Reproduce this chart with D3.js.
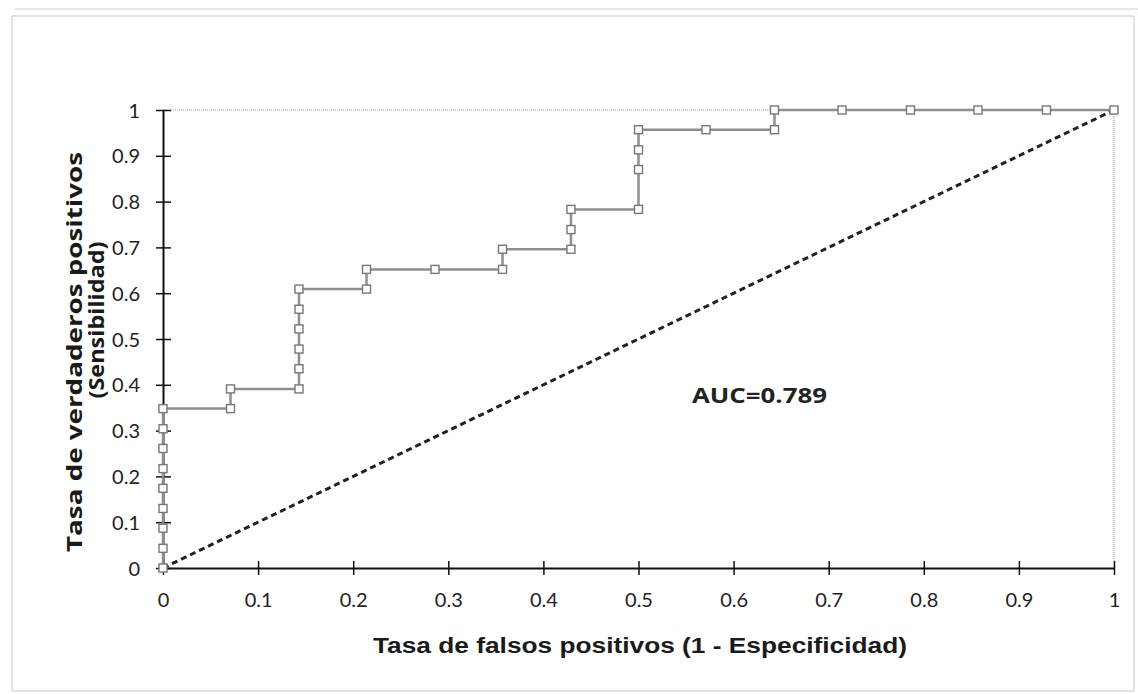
<!DOCTYPE html>
<html><head><meta charset="utf-8">
<script src="https://cdn.jsdelivr.net/npm/d3@7"></script>
<style>html,body{margin:0;padding:0;background:#fff;}svg{display:block;}</style>
</head><body>
<svg id="c" width="1138" height="694"></svg>
<script>
const fpr = [0,0,0,0,0,0,0,0,0, 0.071,0.071, 0.143,0.143,0.143,0.143,0.143,0.143, 0.214,0.214, 0.286, 0.357,0.357, 0.429,0.429,0.429, 0.5,0.5,0.5,0.5, 0.571, 0.643,0.643, 0.714, 0.786, 0.857, 0.929, 1];
const tpr = [0,0.043,0.087,0.13,0.174,0.217,0.261,0.304,0.348, 0.348,0.391, 0.391,0.435,0.478,0.522,0.565,0.609, 0.609,0.652, 0.652, 0.652,0.696, 0.696,0.739,0.783, 0.783,0.87,0.913,0.957, 0.957, 0.957,1, 1,1,1,1,1];
const refLine = [[0,0],[1,1]];
const tickVals = [0,0.1,0.2,0.3,0.4,0.5,0.6,0.7,0.8,0.9,1];
const xTitle = "Tasa de falsos positivos (1 - Especificidad)";
const yTitle1 = "Tasa de verdaderos positivos";
const yTitle2 = "(Sensibilidad)";
const aucLabel = "AUC=0.789";

const svg = d3.select("#c");
const x = d3.scaleLinear().domain([0,1]).range([163,1114]);
const y = d3.scaleLinear().domain([0,1]).range([568,110]);

// outer frame
svg.append("rect").attr("x",12).attr("y",16).attr("width",1122).attr("height",675)
  .attr("fill","none").attr("stroke","#c8c8c8").attr("stroke-width",1);
svg.append("line").attr("x1",15).attr("x2",1138).attr("y1",9).attr("y2",9)
  .attr("stroke","#d0d0d0").attr("stroke-width",1);

// plot border top/right
svg.append("line").attr("x1",x(0)).attr("x2",x(1)).attr("y1",y(1)).attr("y2",y(1))
  .attr("stroke","#999").attr("stroke-width",1).attr("stroke-dasharray","1,1");
svg.append("line").attr("x1",x(1)).attr("x2",x(1)).attr("y1",y(1)).attr("y2",y(0))
  .attr("stroke","#999").attr("stroke-width",1).attr("stroke-dasharray","1,1");

const tickFont = "Lato, 'Open Sans', sans-serif";

// axes
const xAxis = d3.axisBottom(x).tickValues(tickVals).tickFormat(d3.format("")).tickSize(0);
const gx = svg.append("g").attr("transform",`translate(0,${y(0)})`).call(xAxis);
gx.attr("font-family",null).attr("font-size",null);
gx.select(".domain").attr("stroke","#111").attr("stroke-width",2);
gx.selectAll(".tick line").remove();
gx.selectAll(".tick").append("line").attr("y1",-7).attr("y2",7).attr("stroke","#111").attr("stroke-width",1.5);
gx.selectAll(".tick text").attr("y",39).attr("dy",0).attr("font-family",tickFont)
  .attr("font-size",20).attr("fill","#222");

const yAxis = d3.axisLeft(y).tickValues(tickVals).tickFormat(d3.format("")).tickSize(0);
const gy = svg.append("g").attr("transform",`translate(${x(0)},0)`).call(yAxis);
gy.attr("font-family",null).attr("font-size",null);
gy.select(".domain").attr("stroke","#111").attr("stroke-width",2);
gy.selectAll(".tick line").remove();
gy.selectAll(".tick").append("line").attr("x1",-7).attr("x2",8).attr("stroke","#111").attr("stroke-width",1.5);
gy.selectAll(".tick text").attr("x",-23).attr("dy","0.35em").attr("font-family",tickFont)
  .attr("font-size",20).attr("fill","#222");

// diagonal
svg.append("path").datum(refLine)
  .attr("d", d3.line().x(d=>x(d[0])).y(d=>y(d[1])))
  .attr("fill","none").attr("stroke","#222").attr("stroke-width",3).attr("stroke-dasharray","6,4");

// ROC series
const pts = fpr.map((f,i)=>[f,tpr[i]]);
svg.append("path").datum(pts)
  .attr("d", d3.line().x(d=>x(d[0])).y(d=>y(d[1])))
  .attr("fill","none").attr("stroke","#8f8f8f").attr("stroke-width",2.5);
svg.selectAll("rect.m").data(pts).enter().append("rect").attr("class","m")
  .attr("x",d=>x(d[0])-4).attr("y",d=>y(d[1])-4).attr("width",8).attr("height",8)
  .attr("fill","#fff").attr("stroke","#777").attr("stroke-width",1.4);

// AUC label
svg.append("text").attr("x",692).attr("y",403).text(aucLabel)
  .attr("font-family","'Open Sans', sans-serif").attr("font-weight","bold").attr("font-size",22)
  .attr("textLength",135).attr("lengthAdjust","spacingAndGlyphs").attr("fill","#222");

// x title
svg.append("text").attr("x",373).attr("y",653).text(xTitle)
  .attr("font-family","'Liberation Sans', Arial, sans-serif").attr("font-weight","bold").attr("font-size",22)
  .attr("textLength",534).attr("lengthAdjust","spacingAndGlyphs").attr("fill","#1a1a1a");

// y titles
svg.append("text").attr("transform","translate(82,352) rotate(-90)").attr("text-anchor","middle").text(yTitle1)
  .attr("font-family","'Open Sans', sans-serif").attr("font-weight","bold").attr("font-size",21)
  .attr("textLength",400).attr("lengthAdjust","spacingAndGlyphs").attr("fill","#1a1a1a");
svg.append("text").attr("transform","translate(104,320) rotate(-90)").attr("text-anchor","middle").text(yTitle2)
  .attr("font-family","'Open Sans', sans-serif").attr("font-weight","bold").attr("font-size",21)
  .attr("textLength",157).attr("lengthAdjust","spacingAndGlyphs").attr("fill","#1a1a1a");
</script>
</body></html>
